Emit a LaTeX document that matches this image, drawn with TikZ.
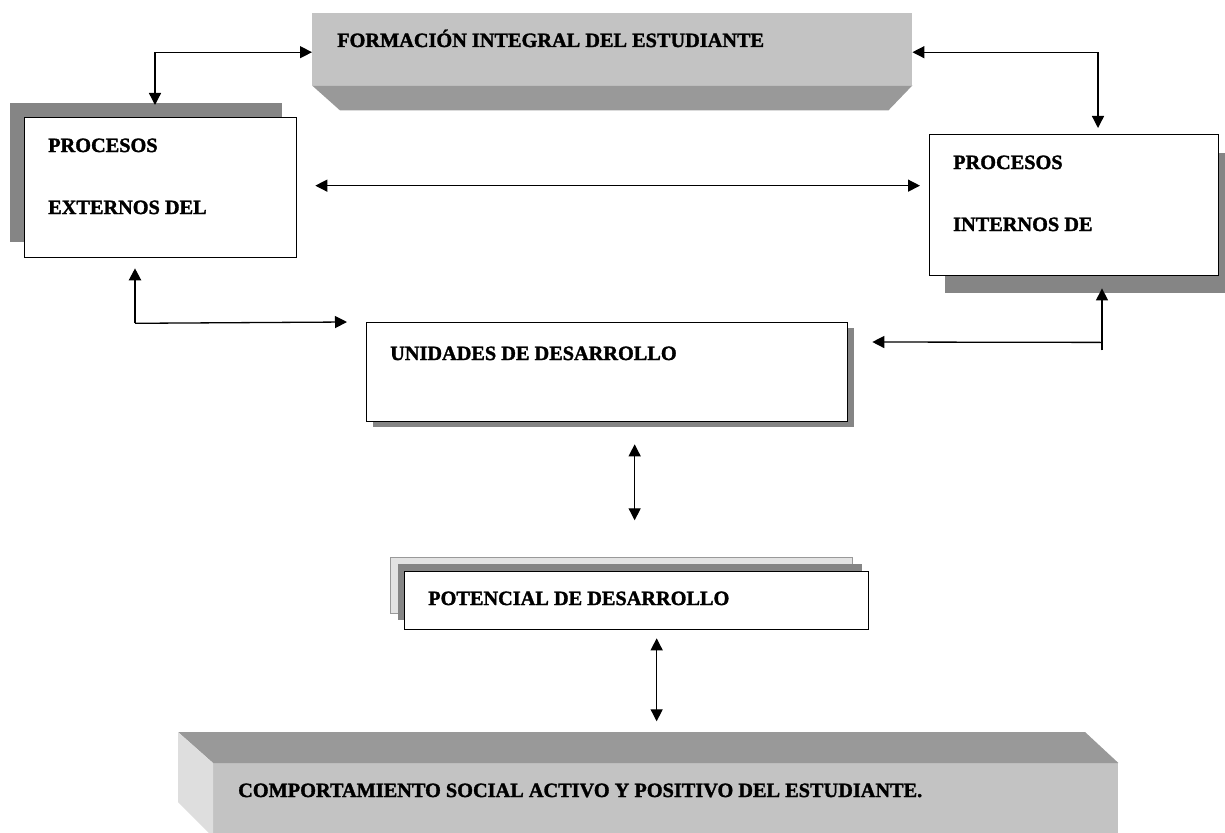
\documentclass[tikz,border=0pt]{standalone}
\usepackage{fontspec}
\setmainfont{Liberation Serif}
\newfontfamily\heavyfont[FakeBold=1.6]{Liberation Serif Bold}
\usetikzlibrary{arrows.meta}
\definecolor{lgray}{HTML}{C3C3C3}
\definecolor{mgray}{HTML}{999999}
\definecolor{dgray}{HTML}{858585}
\definecolor{pgray}{HTML}{E3E3E3}
\definecolor{sgray}{HTML}{DEDEDE}
\tikzset{
  frontbox/.style={draw=black, line width=1.3pt, fill=white, anchor=north west, inner sep=0pt},
  shadowbox/.style={fill=dgray, anchor=north west, inner sep=0pt},
  plain/.style={anchor=north west, inner sep=0pt},
  lbl/.style={anchor=base west, inner sep=0pt, font=\fontsize{20.3}{24}\heavyfont},
  arr/.style={line width=1.3pt, -{Triangle[length=12pt,width=12pt]}},
  darr/.style={line width=1.3pt, {Triangle[length=12pt,width=12pt]}-{Triangle[length=12pt,width=12pt]}},
}
\begin{document}
\begin{tikzpicture}[x=1pt,y=-1pt]
\useasboundingbox (0,0) rectangle (1225,832);
% top box
\node[plain, fill=lgray, minimum width=600, minimum height=72] (form) at (312,13) {};
\fill[mgray] (form.south west) -- (form.south east) -- ++(-24,25) -- ([xshift=28,yshift=-25]form.south west) -- cycle;
\node[lbl] (formt) at (337,47) {FORMACIÓN INTEGRAL DEL ESTUDIANTE};
% left box
\node[shadowbox, minimum width=272, minimum height=139] (extsh) at (10,103) {};
\node[frontbox, minimum width=272, minimum height=140] (ext) at (24,117) {};
\node[lbl] (ext1) at (48,152) {PROCESOS};
\node[lbl] (ext2) at (48,214) {EXTERNOS DEL};
% right box
\node[shadowbox, minimum width=285, minimum height=140] (intsh) at (945,153) {};
\node[frontbox, minimum width=289, minimum height=141] (int) at (929,134) {};
\node[lbl] (int1) at (953,169) {PROCESOS};
\node[lbl] (int2) at (953,231) {INTERNOS DE};
% unidades
\node[shadowbox, minimum width=481, minimum height=99] (unidsh) at (373,328) {};
\node[frontbox, minimum width=481, minimum height=99] (unid) at (366,322) {};
\node[lbl] (unidt) at (390,360) {UNIDADES DE DESARROLLO};
% potencial
\node[plain, fill=pgray, draw=mgray, line width=0.5pt, minimum width=462, minimum height=56] (potl) at (390,557) {};
\node[shadowbox, minimum width=464, minimum height=56] (potd) at (398,564) {};
\node[frontbox, minimum width=464, minimum height=58] (pot) at (404,571) {};
\node[lbl] (pott) at (428,605) {POTENCIAL DE DESARROLLO};
% bottom box
\node[plain, fill=lgray, minimum width=905, minimum height=75] (comp) at (213,763) {};
\fill[mgray] (178,732) -- (1085,732) -- (comp.north east) -- (comp.north west) -- cycle;
\fill[sgray] (178,732) -- (comp.north west) -- (comp.south west) -- (208,832) -- (178,802) -- cycle;
\node[lbl] (compt) at (238,797) {COMPORTAMIENTO SOCIAL ACTIVO Y POSITIVO DEL ESTUDIANTE.};
% connectors
\draw[darr] ([xshift=145,yshift=-2]extsh.north west) |- ([yshift=-3]form.west);
\draw[darr] ([yshift=-3]form.east) -| ([xshift=169,yshift=6]int.north west);
\draw[darr] ([xshift=18,yshift=2]ext.east) -- ([xshift=-9,yshift=2]ext.east -| int.west);
\draw[arr, line width=2.2pt] ([xshift=111,yshift=-65]ext.south west) -- ([xshift=111,yshift=-10]ext.south west);
\draw[arr] ([xshift=111,yshift=-65]ext.south west) -- ([xshift=-19]unid.north west);
\draw[arr] ([xshift=157,yshift=-57]intsh.south west) -- ([xshift=157,yshift=5]intsh.south west);
\draw[arr] ([xshift=157,yshift=-49]intsh.south west) -- ([xshift=24,yshift=-20]unid.north east);
\draw[darr] ([xshift=27.5,yshift=-22]unid.south) -- ([xshift=27.5,yshift=-98]unid.south);
\draw[darr] ([xshift=20,yshift=-8]pot.south) -- ([xshift=20,yshift=-91]pot.south);
\end{tikzpicture}
\end{document}
